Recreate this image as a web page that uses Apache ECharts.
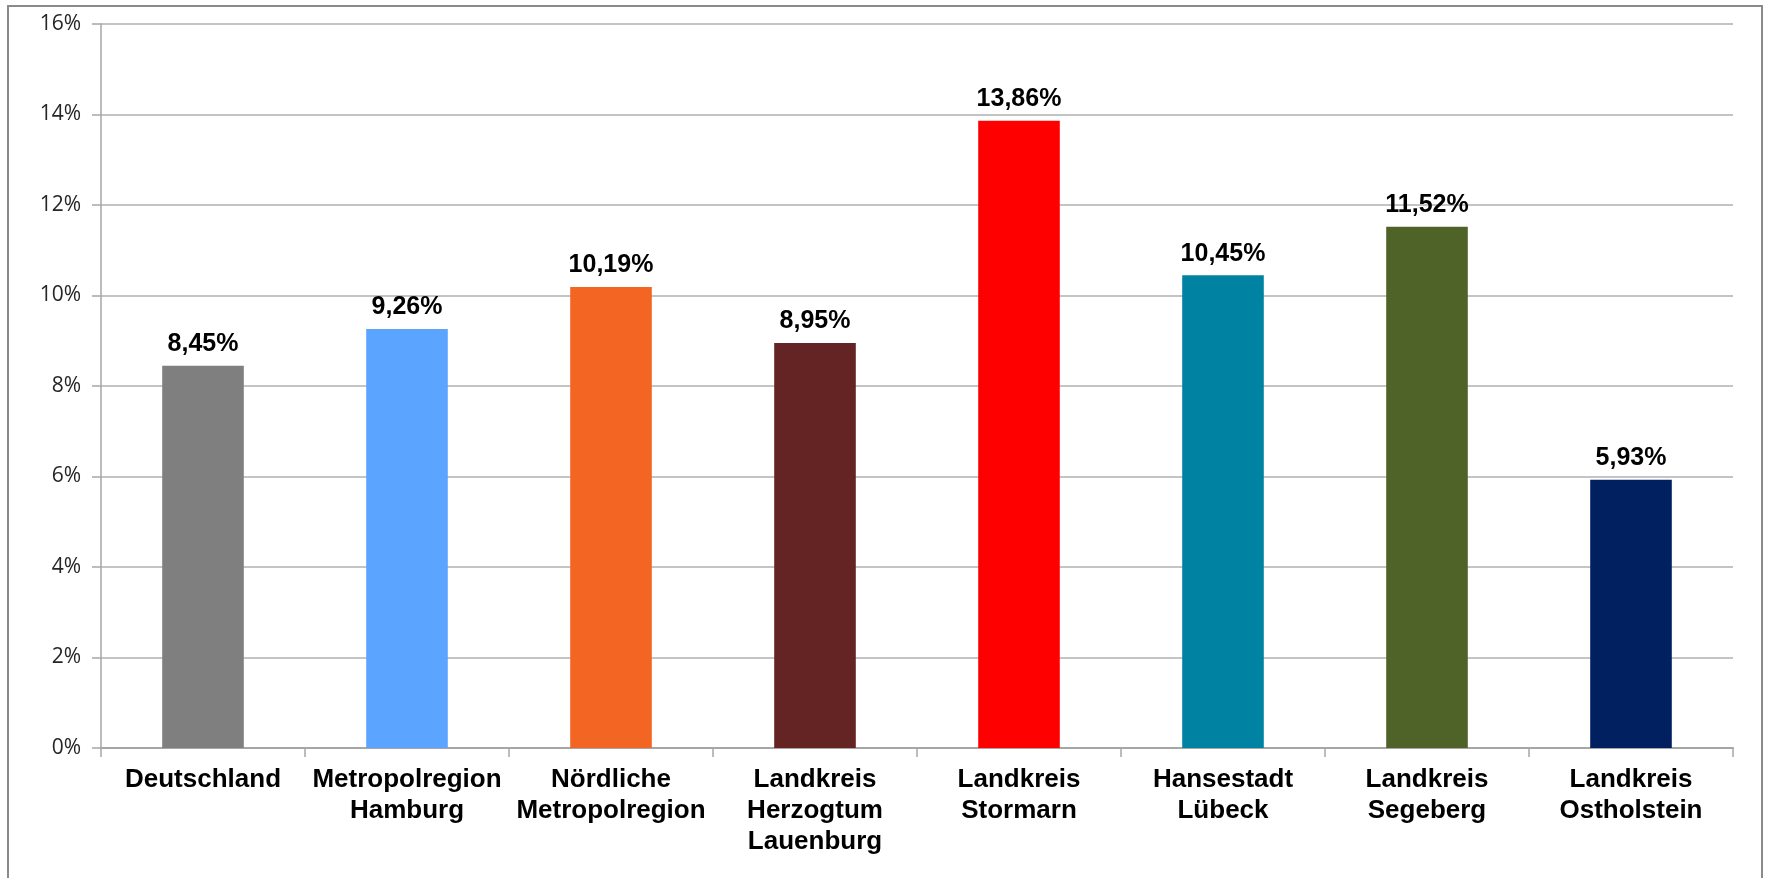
<!DOCTYPE html>
<html>
<head>
<meta charset="utf-8">
<script src="https://cdn.jsdelivr.net/npm/echarts@6/dist/echarts.min.js"></script>
<style>
html,body{margin:0;padding:0;background:#fff;width:1771px;height:878px;overflow:hidden;}
#frame{position:absolute;left:7px;top:5px;width:1756px;height:900px;border:2px solid #8a8a8a;box-sizing:border-box;}
#chart{position:absolute;left:0;top:0;width:1771px;height:878px;}
</style>
</head>
<body>
<div id="frame"></div>
<div id="chart"></div>
<script>
const categories = [
  "Deutschland",
  "Metropolregion\nHamburg",
  "Nördliche\nMetropolregion",
  "Landkreis\nHerzogtum\nLauenburg",
  "Landkreis\nStormarn",
  "Hansestadt\nLübeck",
  "Landkreis\nSegeberg",
  "Landkreis\nOstholstein"
];
const values = [8.45, 9.26, 10.19, 8.95, 13.86, 10.45, 11.52, 5.93];
const barColors = ["#7f7f7f", "#5ba4ff", "#f26522", "#632423", "#ff0000", "#0083a3", "#4f6228", "#002060"];
const yTicks = { min: 0, max: 16, interval: 2 };

const chart = echarts.init(document.getElementById('chart'), null, {renderer: 'canvas'});
chart.setOption({
  animation: false,
  backgroundColor: 'transparent',
  grid: { left: 101, right: 38, top: 24, bottom: 130, containLabel: false },
  xAxis: {
    type: 'category',
    data: categories,
    boundaryGap: true,
    axisLine: { show: true, lineStyle: { color: '#a6a6a6', width: 2 } },
    axisTick: { show: true, alignWithLabel: false, length: 9, lineStyle: { color: '#a6a6a6', width: 1.5 } },
    axisLabel: {
      interval: 0, margin: 16,
      color: '#000', fontFamily: 'Liberation Sans, Arial, sans-serif',
      fontWeight: 'bold', fontSize: 26, lineHeight: 31
    },
    splitLine: { show: false }
  },
  yAxis: {
    type: 'value',
    min: yTicks.min, max: yTicks.max, interval: yTicks.interval,
    axisLine: { show: true, lineStyle: { color: '#a6a6a6', width: 1.5 } },
    axisTick: { show: true, length: 9, lineStyle: { color: '#a6a6a6', width: 1.5 } },
    axisLabel: {
      formatter: '{value}%', margin: 20,
      color: '#262626', fontFamily: 'Open Sans, sans-serif', fontSize: 21
    },
    splitLine: { show: true, lineStyle: { color: '#b0b0b0', width: 1.5 } }
  },
  series: [{
    type: 'bar',
    data: values.map((v, i) => ({ value: v, itemStyle: { color: barColors[i] } })),
    barWidth: '40%',
    label: {
      show: true, position: 'top', distance: 9,
      formatter: p => p.value.toFixed(2).replace('.', ',') + '%',
      color: '#000', fontFamily: 'Liberation Sans, Arial, sans-serif',
      fontWeight: 'bold', fontSize: 25
    }
  }]
});
</script>
</body>
</html>
